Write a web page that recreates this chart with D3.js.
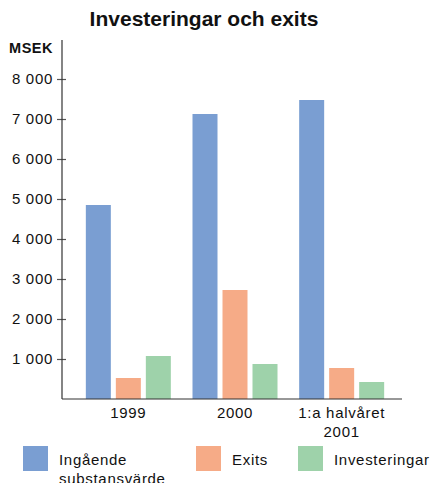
<!DOCTYPE html>
<html><head><meta charset="utf-8">
<script src="https://cdn.jsdelivr.net/npm/d3@7"></script>
<style>body{margin:0;background:#fff}svg{display:block}text{font-family:"Liberation Sans",Arial,sans-serif;fill:#111}</style>
</head><body>
<script>
const categories = ["1999", "2000", "1:a halvåret\n2001"];
const seriesNames = ["Ingående\nsubstansvärde", "Exits", "Investeringar"];
const seriesColors = ["#7a9ed2", "#f6ab87", "#9ed2aa"];
const ingaende = [4850, 7125, 7475];
const exits = [525, 2725, 775];
const investeringar = [1075, 875, 425];
const yTicks = [1000, 2000, 3000, 4000, 5000, 6000, 7000, 8000];
const yTickLabels = ["1 000", "2 000", "3 000", "4 000", "5 000", "6 000", "7 000", "8 000"];

const values = [ingaende, exits, investeringar];
const W = 431, H = 483;
const svg = d3.select("body").append("svg").attr("width", W).attr("height", H);

const y = d3.scaleLinear().domain([0, 9000]).range([399, 39]);
const x0 = d3.scaleBand().domain(categories).range([75, 395]).paddingInner(0).paddingOuter(0);
const x1 = d3.scaleBand().domain([0,1,2]).range([0, 85]).paddingInner(5/30).paddingOuter(0);

// title
svg.append("text").attr("x", 204).attr("y", 26).attr("text-anchor", "middle")
  .attr("font-size", 21).attr("font-weight", "bold").text("Investeringar och exits");
svg.append("text").attr("x", 53).attr("y", 53).attr("text-anchor", "end")
  .attr("font-size", 14.5).attr("font-weight", "bold").attr("letter-spacing", 0.5).text("MSEK");

// bars
categories.forEach((c, ci) => {
  const gx = x0(c) + (x0.bandwidth() - 85) / 2;
  values.forEach((arr, si) => {
    svg.append("rect").attr("x", gx + x1(si)).attr("width", x1.bandwidth())
      .attr("y", y(arr[ci])).attr("height", y(0) - y(arr[ci])).attr("fill", seriesColors[si]);
  });
});

// y axis (ticks from d3 axis, labels as text at scale positions)
const yAxis = svg.append("g").attr("transform", "translate(62,0)")
  .call(d3.axisLeft(y).tickValues(yTicks).tickSize(5).tickFormat(""));
yAxis.select(".domain").remove();
yAxis.selectAll(".tick text").remove();
yAxis.append("line").attr("x1", 0).attr("x2", 0).attr("y1", 40).attr("y2", 399).attr("stroke", "#333").attr("stroke-width", 1.2);
yAxis.selectAll(".tick line").attr("x1", 4).attr("x2", -5).attr("stroke", "#555").attr("stroke-width", 1.2);
yTicks.forEach((v, i) => {
  svg.append("text").attr("x", 53).attr("y", y(v)).attr("dy", "0.36em").attr("text-anchor", "end")
    .attr("font-size", 15).attr("letter-spacing", 0.7).text(yTickLabels[i]);
});

// x axis
svg.append("line").attr("x1", 62).attr("x2", 402).attr("y1", 399).attr("y2", 399).attr("stroke", "#333").attr("stroke-width", 1.2);
categories.forEach(c => {
  const lines = c.split("\n");
  const t = svg.append("text").attr("text-anchor", "middle").attr("font-size", 15).attr("letter-spacing", 0.7);
  lines.forEach((l, i) => t.append("tspan").attr("x", x0(c) + x0.bandwidth() / 2).attr("y", 418 + i * 18.5).text(l));
});

// legend
const legX = [23, 196, 298];
seriesNames.forEach((n, i) => {
  svg.append("rect").attr("x", legX[i]).attr("y", 446).attr("width", 25).attr("height", 25).attr("fill", seriesColors[i]);
  const t = svg.append("text").attr("font-size", 15).attr("letter-spacing", 0.7);
  n.split("\n").forEach((l, j) => t.append("tspan").attr("x", legX[i] + 36).attr("y", 465 + j * 18.5).text(l));
});
</script>
</body></html>
